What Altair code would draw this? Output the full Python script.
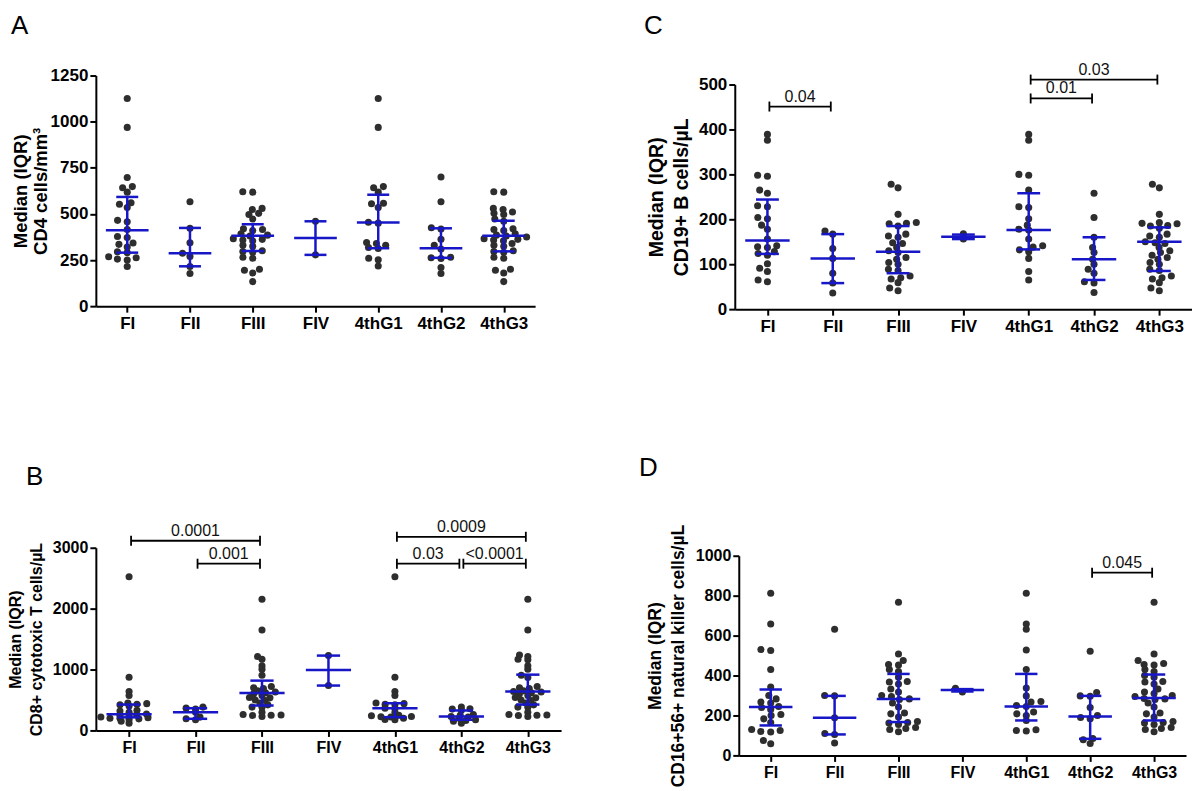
import json
import math
import altair as alt
import pandas as pd

groups = ["FI", "FII", "FIII", "FIV", "4thG1", "4thG2", "4thG3"]

# ---------------- Panel A : CD4 cells/mm3 ----------------
cd4_values = [
    [1126, 969, 697, 648, 642, 618, 560, 552, 535, 465, 458, 415, 378, 372, 342, 335, 320, 295, 290, 268, 262, 255, 250, 215],
    [566, 422, 344, 287, 269, 215, 177],
    [620, 618, 530, 524, 503, 497, 472, 420, 415, 410, 392, 385, 380, 366, 362, 358, 354, 330, 325, 300, 296, 292, 265, 260, 200, 195, 180, 133],
    [460, 278],
    [1126, 969, 648, 642, 618, 558, 555, 535, 455, 450, 345, 340, 330, 318, 312, 260, 252, 218],
    [700, 566, 425, 418, 362, 330, 310, 265, 262, 258, 210, 177],
    [620, 618, 530, 524, 510, 503, 497, 472, 460, 420, 415, 410, 392, 385, 380, 375, 366, 362, 358, 354, 340, 330, 325, 300, 296, 292, 265, 260, 200, 195, 180, 133],
]
cd4_median = [411, 287, 381, 370, 453, 314, 382]
cd4_q1 = [290, 216, 299, 278, 314, 262, 297]
cd4_q3 = [592, 424, 444, 460, 604, 422, 463]
cd4_brackets = []

# ---------------- Panel B : CD8+ cytotoxic T cells/uL ----------------
cd8_values = [
    [2525, 874, 640, 575, 450, 440, 430, 420, 400, 330, 320, 300, 270, 262, 250, 230, 220, 210, 200, 200, 190, 180, 150, 120],
    [383, 366, 350, 300, 219, 191, 175],
    [2153, 1650, 1213, 1169, 1060, 1005, 907, 720, 700, 690, 650, 630, 620, 600, 574, 540, 535, 500, 492, 450, 420, 383, 380, 300, 262, 255, 250, 246, 230],
    [1229, 737],
    [2525, 874, 640, 575, 450, 440, 430, 420, 366, 360, 300, 250, 240, 230, 225, 220, 200, 180, 175],
    [383, 355, 350, 330, 262, 250, 230, 220, 200, 175, 164, 150, 120],
    [2153, 1650, 1240, 1213, 1169, 1160, 1060, 1005, 907, 870, 720, 700, 690, 650, 640, 630, 620, 600, 574, 540, 535, 500, 492, 450, 420, 383, 380, 300, 262, 255, 250, 246, 230],
]
cd8_median = [265, 300, 616, 994, 366, 230, 638]
cd8_q1 = [215, 191, 409, 737, 218, 175, 425]
cd8_q3 = [425, 365, 818, 1229, 447, 328, 916]
cd8_brackets = [(0, 2, 3115, "0.0001"), (1, 2, 2738, "0.001"), (4, 6, 3180, "0.0009"),
                (4, 5, 2738, "0.03"), (5, 6, 2738, "<0.0001")]

# ---------------- Panel C : CD19+ B cells/uL ----------------
cd19_values = [
    [389, 376, 298, 296, 265, 258, 230, 228, 204, 201, 187, 178, 156, 141, 139, 137, 128, 124, 120, 101, 91, 84, 65, 61],
    [174, 167, 135, 113, 80, 58, 36],
    [278, 270, 211, 193, 191, 190, 185, 167, 163, 160, 148, 146, 137, 130, 126, 115, 111, 104, 100, 89, 86, 74, 70, 67, 59, 47, 41],
    [168, 156],
    [389, 376, 300, 298, 265, 228, 226, 201, 187, 178, 176, 156, 141, 138, 132, 128, 113, 84, 65],
    [258, 204, 160, 137, 126, 111, 100, 89, 80, 61, 58, 37],
    [278, 270, 211, 193, 191, 190, 186, 185, 180, 167, 163, 160, 150, 148, 146, 137, 130, 126, 120, 115, 111, 104, 100, 89, 86, 74, 70, 67, 59, 47, 41],
]
cd19_median = [153, 113, 128, 161, 176, 111, 150]
cd19_q1 = [123, 58, 80, 156, 133, 65, 85]
cd19_q3 = [244, 167, 185, 166, 258, 160, 182]
cd19_brackets = [(0, 1, 451, "0.04"), (4, 5, 469, "0.01"), (4, 6, 511, "0.03")]

# ---------------- Panel D : CD16+56+ NK cells/uL ----------------
nk_values = [
    [812, 658, 530, 525, 430, 342, 300, 283, 267, 262, 245, 240, 230, 205, 200, 183, 165, 130, 125, 120, 117, 75, 58],
    [632, 300, 298, 188, 110, 105, 62],
    [767, 508, 475, 455, 453, 430, 420, 392, 370, 368, 358, 333, 317, 300, 295, 283, 280, 262, 242, 212, 208, 192, 170, 165, 162, 155, 140, 135, 130, 118],
    [336, 318],
    [812, 658, 632, 528, 430, 338, 298, 270, 267, 250, 245, 217, 208, 200, 175, 128, 125, 122],
    [522, 315, 298, 296, 240, 200, 190, 183, 85, 78, 60],
    [767, 508, 475, 460, 455, 453, 430, 420, 400, 392, 370, 368, 358, 333, 317, 310, 300, 295, 285, 283, 280, 262, 242, 212, 208, 192, 170, 165, 162, 155, 140, 135, 130, 118],
]
nk_median = [242, 188, 283, 327, 245, 195, 287]
nk_q1 = [150, 105, 167, 320, 175, 83, 175]
nk_q3 = [330, 298, 408, 332, 408, 298, 405]
nk_brackets = [(5, 6, 915, "0.045")]

BLUE = "#1717c8"
DOT = "#2e2e2e"
FONT = "Liberation Sans"
LETTER_FONT = "Liberation Sans"


def swarm(vals, ppu, dxs=10.0, dys=5.0):
    """Beeswarm offsets (pixels) computed from the values (elliptic spacing)."""
    order = sorted(range(len(vals)), key=lambda i: vals[i])
    placed = []
    xs = [0.0] * len(vals)
    for i in order:
        y = vals[i] * ppu
        forb = []
        for (px, py) in placed:
            dy = abs(y - py)
            if dy < dys:
                w = dxs * math.sqrt(1 - (dy / dys) ** 2)
                forb.append((px - w, px + w))
        cands = [0.0] + [a for a, b in forb] + [b for a, b in forb]
        cands.sort(key=lambda c: (round(abs(c), 6), c))
        for c in cands:
            if all(not (a + 1e-6 < c < b - 1e-6) for a, b in forb):
                xs[i] = c
                break
        placed.append((xs[i], y))
    return xs


def panel(letter, values, med, q1, q3, brackets, ymax, ticks, width, height, top_gap,
          ytitle, tick_fs, title_fs, title_x, title_lh, letter_dx, letter_off, swarm_dy):
    span = height - top_gap
    ppu = span / ymax
    band = width / 7.0
    rows = []
    for gi, vals in enumerate(values):
        for v, o in zip(vals, swarm(vals, ppu, 10.0, swarm_dy)):
            rows.append({"x": gi + o / band, "v": v})
    pts = pd.DataFrame(rows)
    summ = pd.DataFrame({"g": list(range(7)), "med": med, "q1": q1, "q3": q3})

    xscale = alt.Scale(domain=[-0.5, 6.5], nice=False, zero=False)
    yscale = alt.Scale(domain=[0, ymax], nice=False, zero=True, range=[height, top_gap])
    lab_expr = json.dumps(groups) + "[datum.value]"
    xaxis = alt.Axis(values=list(range(7)), labelExpr=lab_expr, title=None, grid=False,
                     domainColor="black", domainWidth=2, tickColor="black", tickWidth=2,
                     tickSize=6, labelFont=FONT, labelFontSize=tick_fs, labelFontWeight="bold",
                     labelColor="black", labelPadding=3, labelFlush=False, labelOverlap=False)
    yaxis = alt.Axis(values=ticks, format="d", title=ytitle, grid=False, domainColor="black",
                     domainWidth=2, tickColor="black", tickWidth=2, tickSize=6, labelFont=FONT,
                     labelFontSize=tick_fs, labelFontWeight="bold", labelColor="black",
                     labelPadding=2, labelFlush=False, labelOverlap=False,
                     titleFont=FONT, titleFontSize=title_fs, titleFontWeight="bold",
                     titleColor="black", titleAngle=270, titleAlign="center",
                     titleBaseline="bottom", titleX=title_x, titleY=top_gap + span / 2,
                     titleLineHeight=title_lh)

    def X(f):
        return alt.X(f, scale=xscale, axis=xaxis)

    def Y(f):
        return alt.Y(f, scale=yscale, axis=yaxis)

    points = alt.Chart(pts).mark_circle(size=50, color=DOT, opacity=1).encode(
        x=X("x:Q"), y=Y("v:Q"))
    base = alt.Chart(summ).transform_calculate(
        ml="datum.g - 0.34", mr="datum.g + 0.34", cl="datum.g - 0.175", cr="datum.g + 0.175"
    )
    med_rule = base.mark_rule(color=BLUE, strokeWidth=2.5).encode(
        x=X("ml:Q"), x2="mr:Q", y=Y("med:Q"))
    cap1 = base.mark_rule(color=BLUE, strokeWidth=2.5).encode(
        x=X("cl:Q"), x2="cr:Q", y=Y("q1:Q"))
    cap3 = base.mark_rule(color=BLUE, strokeWidth=2.5).encode(
        x=X("cl:Q"), x2="cr:Q", y=Y("q3:Q"))
    vert = base.mark_rule(color=BLUE, strokeWidth=2.5).encode(
        x=X("g:Q"), y=Y("q1:Q"), y2="q3:Q")
    layers = [points, med_rule, cap1, cap3, vert]

    if brackets:
        bdf = pd.DataFrame({"a": [b[0] for b in brackets], "b": [b[1] for b in brackets],
                            "h": [b[2] for b in brackets], "lab": [b[3] for b in brackets]})
        t = 5.0 / ppu
        bb = alt.Chart(bdf).transform_calculate(
            a2="datum.a + 0.03", b2="datum.b - 0.03",
            lo="datum.h - %f" % t, hi="datum.h + %f" % t,
            mid="(datum.a + datum.b) / 2")
        hline = bb.mark_rule(color="black", strokeWidth=1.8).encode(
            x=X("a2:Q"), x2="b2:Q", y=Y("h:Q"))
        tl = bb.mark_rule(color="black", strokeWidth=1.8).encode(
            x=X("a2:Q"), y=Y("lo:Q"), y2="hi:Q")
        tr = bb.mark_rule(color="black", strokeWidth=1.8).encode(
            x=X("b2:Q"), y=Y("lo:Q"), y2="hi:Q")
        txt = bb.mark_text(baseline="alphabetic", dy=-5, fontSize=16, font=FONT,
                           color="#111111").encode(
            x=X("mid:Q"), y=Y("h:Q"), text="lab:N")
        layers += [hline, tl, tr, txt]

    return alt.layer(*layers).properties(
        width=width, height=height,
        title=alt.TitleParams(text=letter, anchor="start", frame="group", dx=letter_dx,
                              offset=letter_off, font=LETTER_FONT, fontSize=26,
                              fontWeight="normal", color="black"),
    )


pA = panel("A", cd4_values, cd4_median, cd4_q1, cd4_q3, cd4_brackets, 1250,
           [0, 250, 500, 750, 1000, 1250], 440, 231, 0,
           ["Median (IQR)", "CD4 cells/mm³"], 17, 18.5, -65, 20, -85, 28, 5.0)
pC = panel("C", cd19_values, cd19_median, cd19_q1, cd19_q3, cd19_brackets, 500,
           [0, 100, 200, 300, 400, 500], 458, 234, 9,
           ["Median (IQR)", "CD19+ B cells/µL"], 17, 19.5, -68, 25, -91, 23, 5.0)
pB = panel("B", cd8_values, cd8_median, cd8_q1, cd8_q3, cd8_brackets, 3000,
           [0, 1000, 2000, 3000], 466, 183, 0,
           ["Median (IQR)", "CD8+ cytotoxic T cells/µL"], 16, 16, -72, 21, -70, 29, 3.0)
pD = panel("D", nk_values, nk_median, nk_q1, nk_q3, nk_brackets, 1000,
           [0, 200, 400, 600, 800, 1000], 448, 208, 8,
           ["Median (IQR)", "CD16+56+ natural killer cells/µL"], 16, 17.5, -74, 23, -100, 43, 5.0)

row1 = alt.hconcat(pA, pC, spacing=109)
row2 = alt.hconcat(pB, pD, spacing=78)
chart = alt.vconcat(row1, row2, spacing=121).properties(
    padding={"left": 0, "top": 4, "right": 0, "bottom": 0}, background="white"
).configure_view(stroke=None)

chart.save("out.html", embed_options={"renderer": "svg", "actions": False})
